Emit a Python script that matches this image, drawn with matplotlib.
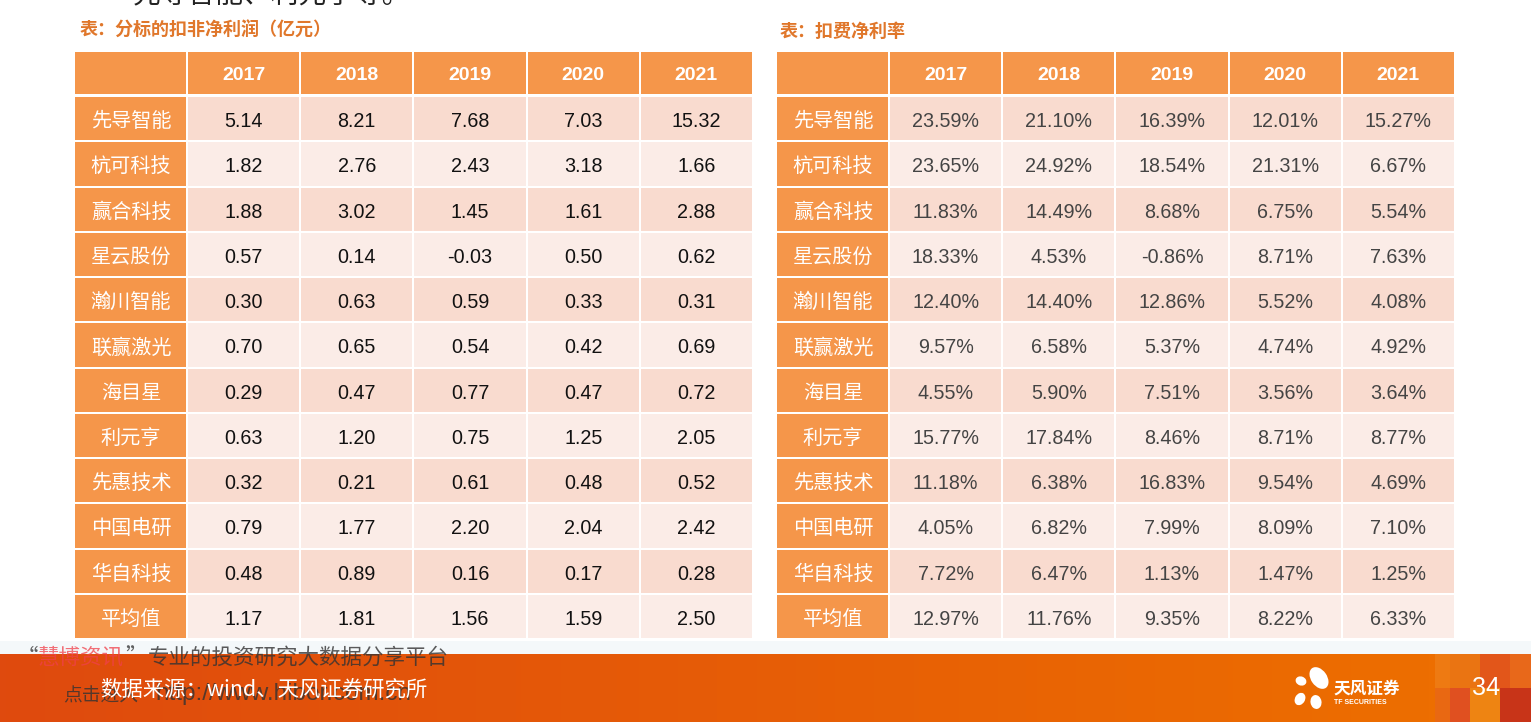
import matplotlib
matplotlib.use("Agg")
import matplotlib.pyplot as plt
from matplotlib.patches import Rectangle, Ellipse
import numpy as np

# ---------------- data ----------------
companies = ['先导智能', '杭可科技', '赢合科技', '星云股份', '瀚川智能', '联赢激光',
             '海目星', '利元亨', '先惠技术', '中国电研', '华自科技', '平均值']
years = ['2017', '2018', '2019', '2020', '2021']
profit = [
    [5.14, 8.21, 7.68, 7.03, 15.32],
    [1.82, 2.76, 2.43, 3.18, 1.66],
    [1.88, 3.02, 1.45, 1.61, 2.88],
    [0.57, 0.14, -0.03, 0.50, 0.62],
    [0.30, 0.63, 0.59, 0.33, 0.31],
    [0.70, 0.65, 0.54, 0.42, 0.69],
    [0.29, 0.47, 0.77, 0.47, 0.72],
    [0.63, 1.20, 0.75, 1.25, 2.05],
    [0.32, 0.21, 0.61, 0.48, 0.52],
    [0.79, 1.77, 2.20, 2.04, 2.42],
    [0.48, 0.89, 0.16, 0.17, 0.28],
    [1.17, 1.81, 1.56, 1.59, 2.50],
]
margin = [
    [23.59, 21.10, 16.39, 12.01, 15.27],
    [23.65, 24.92, 18.54, 21.31, 6.67],
    [11.83, 14.49, 8.68, 6.75, 5.54],
    [18.33, 4.53, -0.86, 8.71, 7.63],
    [12.40, 14.40, 12.86, 5.52, 4.08],
    [9.57, 6.58, 5.37, 4.74, 4.92],
    [4.55, 5.90, 7.51, 3.56, 3.64],
    [15.77, 17.84, 8.46, 8.71, 8.77],
    [11.18, 6.38, 16.83, 9.54, 4.69],
    [4.05, 6.82, 7.99, 8.09, 7.10],
    [7.72, 6.47, 1.13, 1.47, 1.25],
    [12.97, 11.76, 9.35, 8.22, 6.33],
]
title_left = '表：分标的扣非净利润（亿元）'
title_right = '表：扣费净利率'
top_text = '先导智能、利元亨等。'
source_text = '数据来源：wind、天风证券研究所'
page_no = '34'

# ---------------- style ----------------
CJK = ['Noto Sans CJK SC', 'DejaVu Sans']
NUM = ['Liberation Sans', 'Noto Sans CJK SC']
ORANGE = '#F5964A'
ROW_A = '#F9DBCF'
ROW_B = '#FBECE7'
TITLE_C = '#E0772B'

W, H = 1531, 722
fig = plt.figure(figsize=(W / 100, H / 100), dpi=100)
ax = fig.add_axes([0, 0, 1, 1])
ax.set_xlim(0, W)
ax.set_ylim(H, 0)
ax.axis('off')


def draw_table(x0, values, fmt, num_color):
    label_w = 112
    col_w = 113.2
    gap = 2
    head_y, head_h = 52, 42
    row_y0, pitch, row_h = 97, 45.25, 43.3
    # header
    ax.add_patch(Rectangle((x0, head_y), label_w - gap / 2, head_h, color=ORANGE, lw=0))
    for j, yr in enumerate(years):
        cx = x0 + label_w + j * col_w
        ax.add_patch(Rectangle((cx + gap / 2, head_y), col_w - gap, head_h, color=ORANGE, lw=0))
        ax.text(cx + col_w / 2, head_y + head_h / 2 + 3, yr, family=NUM, fontsize=14,
                fontweight='bold', color='white', ha='center', va='center')
    for i, name in enumerate(companies):
        y = row_y0 + i * pitch
        ax.add_patch(Rectangle((x0, y), label_w - gap / 2, row_h, color=ORANGE, lw=0))
        ax.text(x0 + label_w / 2, y + row_h / 2 + 3, name, family=CJK, fontsize=14.5,
                color='white', ha='center', va='center')
        bg = ROW_A if i % 2 == 0 else ROW_B
        for j in range(len(years)):
            cx = x0 + label_w + j * col_w
            ax.add_patch(Rectangle((cx + gap / 2, y), col_w - gap, row_h, color=bg, lw=0))
            ax.text(cx + col_w / 2, y + row_h / 2 + 3, fmt(values[i][j]), family=NUM,
                    fontsize=14.2, color=num_color, ha='center', va='center')


draw_table(75, profit, lambda v: f'{v:.2f}', '#111111')
draw_table(777, margin, lambda v: f'{v:.2f}%', '#444444')

ax.text(80, 30, title_left, family=CJK, fontsize=13, color=TITLE_C, ha='left',
        va='center', fontweight='bold')
ax.text(780, 31, title_right, family=CJK, fontsize=13, color=TITLE_C, ha='left',
        va='center', fontweight='bold')

# cropped sentence at the very top
ax.text(133, 3, top_text, family=CJK, fontsize=20, color='#222222', ha='left',
        va='baseline')

# ---------------- footer banner ----------------
ax.add_patch(Rectangle((0, 641), W, 13, color='#F4F8FA', lw=0))
grad = np.linspace(0, 1, 256)
c0 = np.array([223, 74, 14]) / 255
c1 = np.array([237, 110, 0]) / 255
img = (c0[None, :] * (1 - grad[:, None]) + c1[None, :] * grad[:, None])[None, :, :]
ax.imshow(img, extent=(0, 1435, H, 654), aspect='auto', zorder=1)
# mosaic block at right
blocks = [
    (1435, 654, 15, 34, '#EE7A12'), (1450, 654, 30, 34, '#EA7412'),
    (1480, 654, 30, 34, '#E2561A'), (1510, 654, 21, 34, '#E8681A'),
    (1435, 688, 15, 34, '#E96812'), (1450, 688, 20, 34, '#E05020'),
    (1470, 688, 30, 34, '#EE8412'), (1500, 688, 31, 34, '#C83418'),
]
for bx, by, bw, bh, bc in blocks:
    ax.add_patch(Rectangle((bx, by), bw, bh, color=bc, lw=0, zorder=1.5))
ax.text(1486, 688, page_no, family=NUM, fontsize=18, color='white', ha='center',
        va='center', zorder=3)

# logo
for (ex, ey, ew, eh, ang) in [(1301, 681, 11, 9, 20), (1319, 678, 16, 24, -35),
                              (1300, 699, 10, 13, 30), (1316, 702, 11, 14, -10)]:
    ax.add_patch(Ellipse((ex, ey), ew, eh, angle=ang, color='white', lw=0, zorder=3))
ax.text(1333, 689, '天风证券', family=CJK, fontsize=12, color='white', ha='left',
        va='center', fontweight='bold', zorder=3)
ax.text(1334, 703, 'TF SECURITIES', family=NUM, fontsize=5, color='white', ha='left',
        va='center', fontweight='bold', zorder=3)

# watermark texts (drawn under the source line)
ax.text(38, 658, '“', family=CJK, fontsize=15.5, color='#444444', ha='right', va='center',
        zorder=3, alpha=0.85)
ax.text(38, 658, '慧博资讯', family=CJK, fontsize=15.5, color='#F0404A', ha='left',
        va='center', zorder=3, alpha=0.75)
ax.text(125, 658, '”', family=CJK, fontsize=15.5, color='#444444', ha='left', va='center',
        zorder=3, alpha=0.85)
ax.text(148, 658, '专业的投资研究大数据分享平台', family=CJK, fontsize=15.5,
        color='#333333', ha='left', va='center', zorder=3, alpha=0.8)
ax.text(63, 696, '点击进入', family=CJK, fontsize=13.5, color='#333333', ha='left',
        va='center', zorder=3, alpha=0.8)
ax.text(155, 694, 'http://www.hibor.com.cn', family=NUM, fontsize=17.5, color='#333333',
        ha='left', va='center', zorder=3, alpha=0.8)

# source line
ax.text(100, 690, source_text, family=CJK, fontsize=15.4, color='white', ha='left',
        va='center', zorder=4)

fig.savefig('out.png', dpi=100)
